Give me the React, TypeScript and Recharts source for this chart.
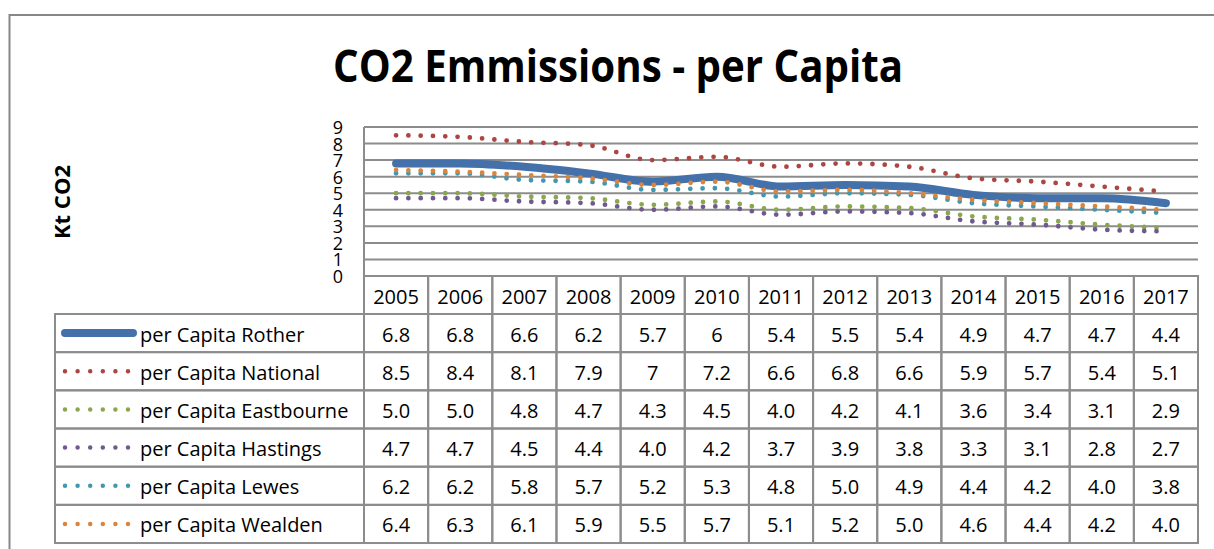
import { LineChart, Line, XAxis, YAxis, CartesianGrid, Customized } from 'recharts';

const YEARS = ['2005', '2006', '2007', '2008', '2009', '2010', '2011', '2012', '2013', '2014', '2015', '2016', '2017'];

const ROTHER = [6.8, 6.8, 6.6, 6.2, 5.7, 6, 5.4, 5.5, 5.4, 4.9, 4.7, 4.7, 4.4];
const NATIONAL = [8.5, 8.4, 8.1, 7.9, 7, 7.2, 6.6, 6.8, 6.6, 5.9, 5.7, 5.4, 5.1];
const EASTBOURNE = [5.0, 5.0, 4.8, 4.7, 4.3, 4.5, 4.0, 4.2, 4.1, 3.6, 3.4, 3.1, 2.9];
const HASTINGS = [4.7, 4.7, 4.5, 4.4, 4.0, 4.2, 3.7, 3.9, 3.8, 3.3, 3.1, 2.8, 2.7];
const LEWES = [6.2, 6.2, 5.8, 5.7, 5.2, 5.3, 4.8, 5.0, 4.9, 4.4, 4.2, 4.0, 3.8];
const WEALDEN = [6.4, 6.3, 6.1, 5.9, 5.5, 5.7, 5.1, 5.2, 5.0, 4.6, 4.4, 4.2, 4.0];

const Y_TICKS = [0, 1, 2, 3, 4, 5, 6, 7, 8, 9];

const SERIES = [
  { key: 'rother', name: 'per Capita Rother', values: ROTHER, color: '#4471a9', solid: true, fixed: false },
  { key: 'national', name: 'per Capita National', values: NATIONAL, color: '#ab4643', solid: false, fixed: false },
  { key: 'eastbourne', name: 'per Capita Eastbourne', values: EASTBOURNE, color: '#8aa64f', solid: false, fixed: true },
  { key: 'hastings', name: 'per Capita Hastings', values: HASTINGS, color: '#71588f', solid: false, fixed: true },
  { key: 'lewes', name: 'per Capita Lewes', values: LEWES, color: '#4298af', solid: false, fixed: true },
  { key: 'wealden', name: 'per Capita Wealden', values: WEALDEN, color: '#db843d', solid: false, fixed: true },
];

const data = YEARS.map((year, i) => {
  const row: Record<string, any> = { year };
  SERIES.forEach((s) => (row[s.key] = s.values[i]));
  return row;
});

// layout
const W = 1214;
const H = 549;
const PLOT_LEFT = 364;
const PLOT_RIGHT = 1198;
const PLOT_TOP = 127;
const PLOT_BOTTOM = 276;
const COL_W = (PLOT_RIGHT - PLOT_LEFT) / YEARS.length;
const ROW_TOP = 314;
const ROW_H = 38.17;
const LEGEND_LEFT = 55;
const GRID = '#8c8c8c';
const FONT = '"Open Sans", sans-serif';

const fmt = (v: number, fixed: boolean) => (fixed ? v.toFixed(1) : String(v));

function YTick(props: any) {
  return (
    <text x={PLOT_LEFT - 21} y={props.y} textAnchor="end" dominantBaseline="central" fontSize={18} fontFamily={FONT} fill="#000">
      {props.payload.value}
    </text>
  );
}

function TableColumn(props: any) {
  const { x, index, payload } = props;
  const left = x - COL_W / 2;
  return (
    <g>
      <rect x={left} y={PLOT_BOTTOM} width={COL_W} height={ROW_TOP - PLOT_BOTTOM} fill="none" stroke={GRID} strokeWidth={2} />
      <text x={x} y={(PLOT_BOTTOM + ROW_TOP) / 2 + 1} textAnchor="middle" dominantBaseline="central" fontSize={20} fontFamily={FONT} fill="#000">
        {payload.value}
      </text>
      {SERIES.map((s, r) => (
        <g key={s.key}>
          <rect x={left} y={ROW_TOP + r * ROW_H} width={COL_W} height={ROW_H} fill="none" stroke={GRID} strokeWidth={2} />
          <text x={x} y={ROW_TOP + r * ROW_H + ROW_H / 2 + 1} textAnchor="middle" dominantBaseline="central" fontSize={20} fontFamily={FONT} fill="#000">
            {fmt(s.values[index], s.fixed)}
          </text>
        </g>
      ))}
    </g>
  );
}

function Decorations() {
  return (
    <g>
      <path d={`M9.5 ${H} V15 H${W}`} fill="none" stroke="#878787" strokeWidth={2} />
      <text x={618} y={82} textAnchor="middle" fontSize={44} fontWeight="bold" fontFamily={FONT} textLength={570} lengthAdjust="spacingAndGlyphs" fill="#000">
        CO2 Emmissions - per Capita
      </text>
      <text
        x={61}
        y={202}
        transform="rotate(-90 61 202)"
        textAnchor="middle"
        dominantBaseline="central"
        fontSize={22}
        fontWeight="bold"
        fontFamily={FONT}
        fill="#000"
      >
        Kt CO2
      </text>
      <line x1={PLOT_LEFT} y1={PLOT_TOP} x2={PLOT_LEFT} y2={ROW_TOP + SERIES.length * ROW_H} stroke={GRID} strokeWidth={2} />
      {SERIES.map((s, r) => {
        const top = ROW_TOP + r * ROW_H;
        const cy = top + ROW_H / 2;
        return (
          <g key={s.key}>
            <rect x={LEGEND_LEFT} y={top} width={PLOT_LEFT - LEGEND_LEFT} height={ROW_H} fill="none" stroke={GRID} strokeWidth={2} />
            {s.solid ? (
              <line x1={65} y1={cy} x2={133} y2={cy} stroke={s.color} strokeWidth={8} strokeLinecap="round" />
            ) : (
              <line x1={65} y1={cy} x2={130} y2={cy} stroke={s.color} strokeWidth={4.5} strokeLinecap="round" strokeDasharray="0 12.6" />
            )}
            <text x={140} y={cy + 1} dominantBaseline="central" fontSize={20} fontFamily={FONT} fill="#000">
              {s.name}
            </text>
          </g>
        );
      })}
    </g>
  );
}

export default function App() {
  return (
    <div style={{ position: 'absolute', left: 0, top: 0, width: W, height: H, background: '#fff' }}>
      <LineChart width={W} height={H} data={data} margin={{ top: PLOT_TOP, right: W - PLOT_RIGHT, bottom: 0, left: 0 }}>
        <CartesianGrid horizontal vertical={false} stroke={GRID} strokeWidth={2} />
        <YAxis
          width={PLOT_LEFT}
          domain={[0, 9]}
          ticks={Y_TICKS}
          interval={0}
          tickLine={false}
          axisLine={false}
          tick={<YTick />}
        />
        <XAxis
          dataKey="year"
          height={H - PLOT_BOTTOM}
          padding={{ left: COL_W / 2, right: COL_W / 2 }}
          interval={0}
          tickLine={false}
          axisLine={false}
          tickSize={0}
          tickMargin={0}
          tick={<TableColumn />}
        />
        {SERIES.map((s) => (
          <Line
            key={s.key}
            type="monotone"
            dataKey={s.key}
            name={s.name}
            stroke={s.color}
            strokeWidth={s.solid ? 8 : 4.8}
            strokeLinecap="round"
            strokeDasharray={s.solid ? undefined : '0 12.3'}
            dot={false}
            activeDot={false}
            isAnimationActive={false}
          />
        ))}
        <Customized component={Decorations} />
      </LineChart>
    </div>
  );
}
